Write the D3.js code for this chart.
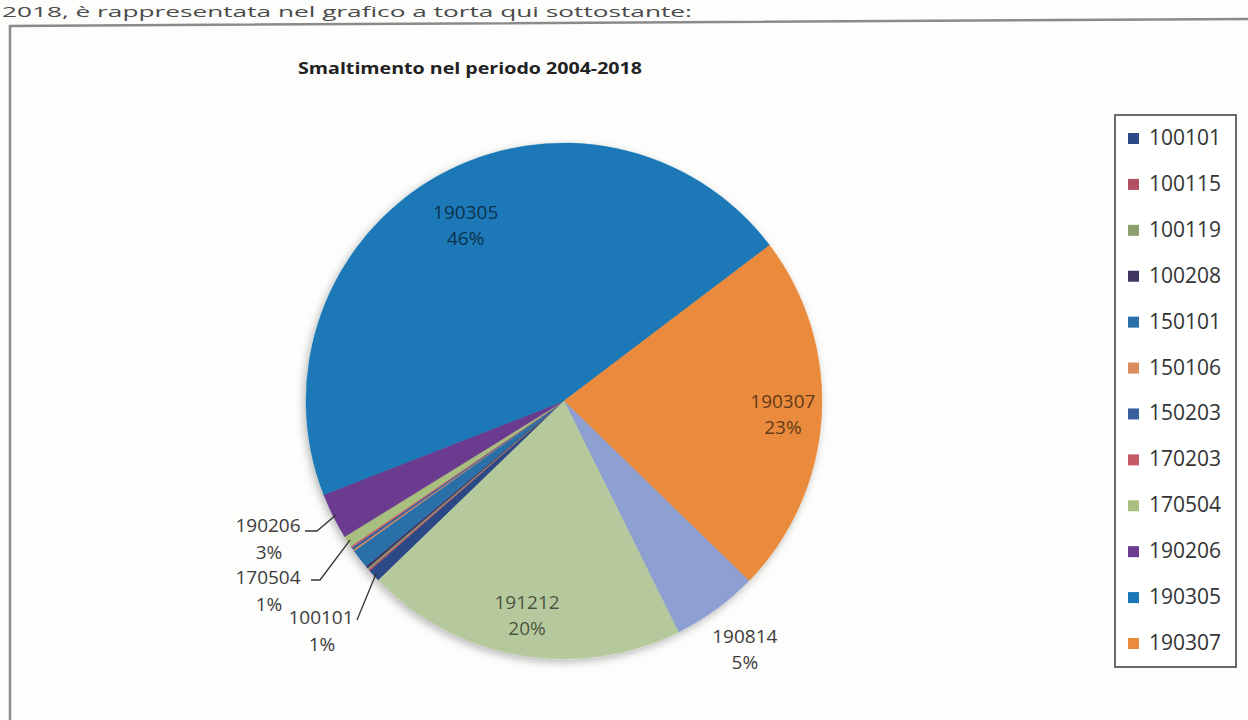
<!DOCTYPE html>
<html>
<head>
<meta charset="utf-8">
<script src="https://cdn.jsdelivr.net/npm/d3@7"></script>
<style>
  html, body { margin: 0; padding: 0; background: #fdfdfc; }
  svg { display: block; }
</style>
</head>
<body>
<svg id="chart" width="1248" height="720"></svg>
<script>
// Waste codes (CER) and their share of the total disposed, 2004-2018 (%)
const categories = ["100101", "100115", "100119", "100208", "150101", "150106", "150203",
                    "170203", "170504", "190206", "190305", "190307", "190814", "191212"];
const shares = [0.8, 0.1, 0.1, 0.15, 1.2, 0.1, 0.15, 0.1, 0.7, 2.9, 45.6, 22.6, 5.4, 20.1];
const sliceColors = ["#2b4a86", "#b14f63", "#8ca06b", "#3f3560", "#2a6fa8", "#d98c5c", "#38609e",
                     "#c65b66", "#a9bf80", "#6b3b8e", "#1a78b6", "#ea8a3c", "#8e9fd1", "#b6c99d"];
// The legend box only has room for the first twelve codes
const legendCategories = categories.slice(0, 12);

const chartTitle = "Smaltimento nel periodo 2004-2018";
const introText = "2018, è rappresentata nel grafico a torta qui sottostante:";

// Label placement: inside labels sit on a fraction of the radius,
// callouts get a text anchor and a leader elbow.
const insideLabels = { "190305": 0.78, "190307": 0.85, "191212": 0.84 };
const outsideLabels = { "190814": 1.19 };
const callouts = {
  "190206": { tx: 268, base: 532, elbow: [317, 531], end: [305, 531] },
  "170504": { tx: 268, base: 584, elbow: [320, 580], end: [311, 580] },
  "100101": { tx: 321, base: 624, elbow: [357, 620], end: [357, 620] }
};

const firstSliceAngle = 226; // degrees, clockwise from 12 o'clock

const svg = d3.select("#chart");
const font = "'Open Sans', 'Liberation Sans', sans-serif";

// shadow under the pie
const defs = svg.append("defs");
const f = defs.append("filter").attr("id", "pieShadow")
  .attr("x", "-10%").attr("y", "-10%").attr("width", "120%").attr("height", "120%");
f.append("feDropShadow").attr("dx", -2).attr("dy", 3).attr("stdDeviation", 4)
  .attr("flood-color", "#000").attr("flood-opacity", 0.28);

// paragraph line above the chart frame
svg.append("text")
  .attr("x", 2).attr("y", 17)
  .attr("font-family", font).attr("font-size", 15).attr("fill", "#4a4a4a")
  .attr("textLength", 690).attr("lengthAdjust", "spacingAndGlyphs")
  .text(introText);

// chart frame
svg.append("path")
  .attr("d", "M10,720 L10,26 L1248,19")
  .attr("fill", "none").attr("stroke", "#8a8a8a").attr("stroke-width", 2.5);

// title
svg.append("text")
  .attr("x", 298).attr("y", 74)
  .attr("font-family", font).attr("font-size", 16).attr("font-weight", "bold")
  .attr("fill", "#222")
  .attr("textLength", 344).attr("lengthAdjust", "spacingAndGlyphs")
  .text(chartTitle);

// pie
const cx = 564, cy = 401, R = 258;
const color = d3.scaleOrdinal().domain(categories).range(sliceColors);
const total = d3.sum(shares);
const data = categories.map((c, i) => ({ code: c, value: shares[i] }));

const a0 = firstSliceAngle * Math.PI / 180;
const pie = d3.pie().sort(null).value(d => d.value)
  .startAngle(a0).endAngle(a0 + 2 * Math.PI);
const arcs = pie(data);
const arc = d3.arc().innerRadius(0).outerRadius(R);

const g = svg.append("g").attr("transform", `translate(${cx},${cy})`);
g.append("g").attr("filter", "url(#pieShadow)")
  .selectAll("path").data(arcs).join("path")
  .attr("d", arc)
  .attr("fill", d => color(d.data.code))
  .attr("stroke", d => color(d.data.code)).attr("stroke-width", 0.4);

const pct = d => Math.round(d.data.value / total * 100) + "%";
const mid = d => (d.startAngle + d.endAngle) / 2;
const polar = (a, r) => [r * Math.sin(a), -r * Math.cos(a)];

// inside / outside labels
function twoLine(sel, x, y, d, fill, opacity) {
  const t = sel.append("text")
    .attr("text-anchor", "middle")
    .attr("font-family", font).attr("font-size", 19)
    .attr("fill", fill).attr("fill-opacity", opacity);
  t.append("tspan").attr("x", x).attr("y", y - 6).text(d.data.code);
  t.append("tspan").attr("x", x).attr("y", y + 20).text(pct(d));
}

arcs.forEach(d => {
  const code = d.data.code;
  if (insideLabels[code] !== undefined) {
    const [x, y] = polar(mid(d), R * insideLabels[code]);
    twoLine(g, x, y, d, "#000", 0.62);
  } else if (outsideLabels[code] !== undefined) {
    const [x, y] = polar(mid(d), R * outsideLabels[code]);
    twoLine(g, x, y, d, "#3c3c3c", 1);
  }
});

// callout labels for the thin slices on the left
const cg = svg.append("g");
arcs.forEach(d => {
  const c = callouts[d.data.code];
  if (!c) return;
  const [px, py] = polar(mid(d), R - 3);
  cg.append("path")
    .attr("d", d3.line()([[cx + px, cy + py], c.elbow, c.end]))
    .attr("fill", "none").attr("stroke", "#333").attr("stroke-width", 1.3);
  const t = cg.append("text")
    .attr("text-anchor", "middle")
    .attr("font-family", font).attr("font-size", 19).attr("fill", "#3c3c3c");
  t.append("tspan").attr("x", c.tx).attr("y", c.base).text(d.data.code);
  t.append("tspan").attr("x", c.tx + 1).attr("y", c.base + 27).text(pct(d));
});

// legend
const legendX = 1115, legendY = 115, legendW = 121, legendH = 552;
const lg = svg.append("g");
lg.append("rect")
  .attr("x", legendX).attr("y", legendY).attr("width", legendW).attr("height", legendH)
  .attr("fill", "#fff").attr("stroke", "#6a6a6a").attr("stroke-width", 2);

const ly = d3.scalePoint().domain(legendCategories).range([145, 650]);
const items = lg.selectAll("g.item").data(legendCategories).join("g").attr("class", "item");
items.append("rect")
  .attr("x", 1128).attr("y", d => ly(d) - 12)
  .attr("width", 11).attr("height", 11)
  .attr("fill", d => color(d));
items.append("text")
  .attr("x", 1149).attr("y", d => ly(d))
  .attr("font-family", font).attr("font-size", 21).attr("fill", "#333")
  .text(d => d);
</script>
</body>
</html>
